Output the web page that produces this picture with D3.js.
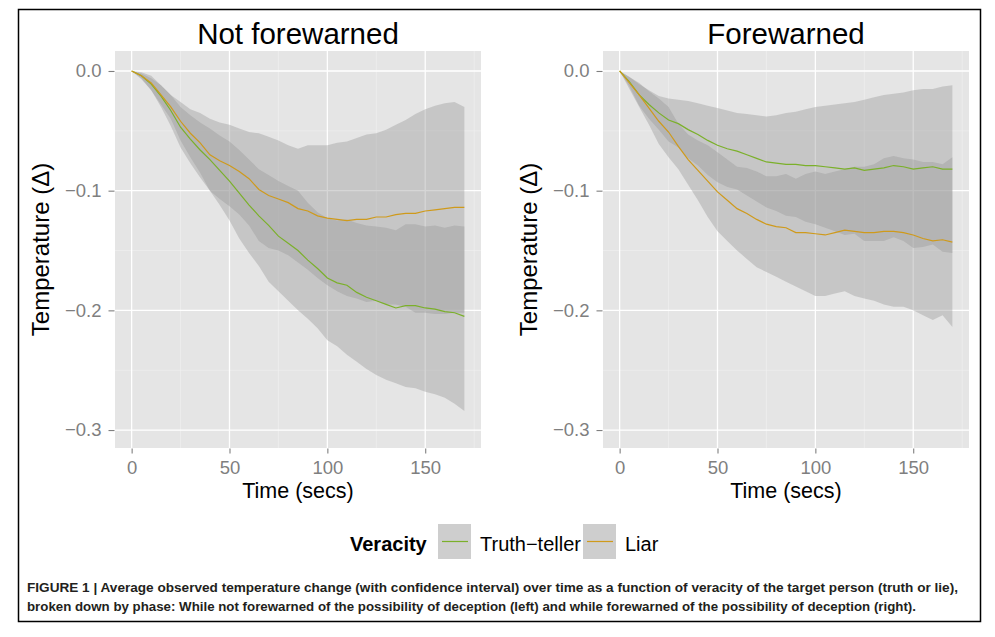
<!DOCTYPE html>
<html>
<head>
<meta charset="utf-8">
<script src="https://cdn.jsdelivr.net/npm/d3@7"></script>
<style>
  body { margin: 0; background: #ffffff; }
  text { font-family: "Liberation Sans", Arial, Helvetica, sans-serif; }
</style>
</head>
<body>
<div id="chart"></div>
<script>
// Time axis, seconds (one reading every 5 s off the figure)
var TIME = [0, 5, 10, 15, 20, 25, 30, 35, 40, 45, 50, 55, 60, 65, 70, 75, 80, 85,
            90, 95, 100, 105, 110, 115, 120, 125, 130, 135, 140, 145, 150, 155, 160, 165, 170];

var PHASES = ["Not forewarned", "Forewarned"];
var VERACITY = ["Truth\u2212teller", "Liar"];
var X_TICKS = [0, 50, 100, 150];
var X_MINOR = [25, 75, 125, 175];
var Y_TICKS = [0, -0.1, -0.2, -0.3];
var Y_TICK_LABELS = ["0.0", "\u22120.1", "\u22120.2", "\u22120.3"];
var Y_MINOR = [-0.05, -0.15, -0.25];

// Not forewarned
var nfTruthMean  = [0, -0.004, -0.011, -0.021, -0.033, -0.047, -0.057, -0.066, -0.074, -0.083, -0.092, -0.102, -0.112, -0.121, -0.129, -0.138, -0.144, -0.150, -0.158, -0.165, -0.173, -0.177, -0.179, -0.185, -0.189, -0.192, -0.195, -0.198, -0.196, -0.196, -0.198, -0.199, -0.201, -0.202, -0.205];
var nfTruthLower = [0, -0.006, -0.016, -0.030, -0.046, -0.064, -0.077, -0.089, -0.100, -0.112, -0.125, -0.140, -0.152, -0.163, -0.176, -0.184, -0.192, -0.200, -0.207, -0.215, -0.225, -0.230, -0.237, -0.243, -0.249, -0.254, -0.258, -0.261, -0.264, -0.265, -0.268, -0.270, -0.273, -0.278, -0.284];
var nfTruthUpper = [0, -0.002, -0.006, -0.012, -0.020, -0.030, -0.037, -0.043, -0.048, -0.054, -0.059, -0.066, -0.074, -0.082, -0.087, -0.092, -0.096, -0.100, -0.110, -0.118, -0.123, -0.125, -0.124, -0.127, -0.129, -0.130, -0.131, -0.133, -0.128, -0.128, -0.130, -0.129, -0.131, -0.129, -0.130];
var nfLiarMean   = [0, -0.004, -0.010, -0.020, -0.030, -0.042, -0.052, -0.060, -0.070, -0.075, -0.079, -0.084, -0.090, -0.099, -0.104, -0.107, -0.110, -0.115, -0.117, -0.121, -0.123, -0.124, -0.125, -0.124, -0.124, -0.122, -0.122, -0.120, -0.119, -0.119, -0.117, -0.116, -0.115, -0.114, -0.114];
var nfLiarLower  = [0, -0.007, -0.016, -0.028, -0.040, -0.058, -0.072, -0.085, -0.100, -0.107, -0.113, -0.120, -0.129, -0.142, -0.148, -0.150, -0.154, -0.160, -0.166, -0.173, -0.179, -0.184, -0.188, -0.190, -0.193, -0.192, -0.195, -0.195, -0.197, -0.202, -0.202, -0.203, -0.203, -0.202, -0.202];
var nfLiarUpper  = [0, -0.001, -0.004, -0.012, -0.020, -0.026, -0.032, -0.035, -0.040, -0.043, -0.045, -0.048, -0.051, -0.052, -0.055, -0.058, -0.062, -0.065, -0.062, -0.062, -0.062, -0.060, -0.059, -0.056, -0.053, -0.052, -0.049, -0.045, -0.041, -0.036, -0.032, -0.029, -0.027, -0.026, -0.030];

// Forewarned
var fwTruthMean  = [0, -0.009, -0.020, -0.028, -0.035, -0.041, -0.044, -0.049, -0.053, -0.058, -0.062, -0.065, -0.067, -0.070, -0.073, -0.076, -0.077, -0.078, -0.078, -0.079, -0.079, -0.080, -0.081, -0.082, -0.081, -0.083, -0.082, -0.081, -0.079, -0.080, -0.082, -0.081, -0.080, -0.082, -0.082];
var fwTruthLower = [0, -0.013, -0.029, -0.040, -0.049, -0.059, -0.064, -0.073, -0.079, -0.087, -0.093, -0.097, -0.099, -0.104, -0.109, -0.114, -0.117, -0.121, -0.122, -0.126, -0.128, -0.131, -0.134, -0.137, -0.136, -0.142, -0.142, -0.142, -0.139, -0.142, -0.148, -0.147, -0.145, -0.151, -0.152];
var fwTruthUpper = [0, -0.005, -0.011, -0.016, -0.021, -0.023, -0.024, -0.025, -0.027, -0.029, -0.031, -0.033, -0.035, -0.036, -0.037, -0.038, -0.037, -0.035, -0.034, -0.032, -0.030, -0.029, -0.028, -0.027, -0.026, -0.024, -0.022, -0.020, -0.019, -0.018, -0.016, -0.015, -0.015, -0.013, -0.012];
var fwLiarMean   = [0, -0.010, -0.020, -0.031, -0.042, -0.051, -0.063, -0.074, -0.083, -0.092, -0.101, -0.108, -0.115, -0.119, -0.124, -0.128, -0.130, -0.131, -0.135, -0.135, -0.136, -0.137, -0.135, -0.133, -0.134, -0.135, -0.135, -0.134, -0.134, -0.135, -0.137, -0.140, -0.142, -0.141, -0.143];
var fwLiarLower  = [0, -0.015, -0.030, -0.045, -0.061, -0.072, -0.082, -0.095, -0.108, -0.122, -0.134, -0.142, -0.150, -0.157, -0.164, -0.168, -0.172, -0.176, -0.180, -0.184, -0.188, -0.188, -0.186, -0.184, -0.188, -0.190, -0.192, -0.195, -0.197, -0.197, -0.200, -0.204, -0.208, -0.204, -0.214];
var fwLiarUpper  = [0, -0.005, -0.010, -0.017, -0.023, -0.030, -0.044, -0.053, -0.058, -0.062, -0.068, -0.074, -0.080, -0.081, -0.084, -0.088, -0.088, -0.086, -0.090, -0.086, -0.084, -0.086, -0.084, -0.082, -0.080, -0.080, -0.078, -0.073, -0.071, -0.073, -0.074, -0.076, -0.076, -0.078, -0.072];

var CAPTION_1 = "Average observed temperature change (with confidence interval) over time as a function of veracity of the target person (truth or lie),";
var CAPTION_2 = "broken down by phase: While not forewarned of the possibility of deception (left) and while forewarned of the possibility of deception (right).";

var COLORS = ["#7bb02a", "#cf9a1b"];   // truth-teller, liar
var RIBBON = "#999999";
var RIBBON_OPACITY = 0.4;

var PW = 366, PH = 397;   // panel size
var PANEL_LEFT = [115, 603];
var PANEL_TOP = 51;

var svg = d3.select("#chart").append("svg")
  .attr("width", 995)
  .attr("height", 637);

svg.append("rect").attr("width", 995).attr("height", 637).attr("fill", "#fff");

// outer figure frame
svg.append("rect")
  .attr("x", 18.5).attr("y", 9.5)
  .attr("width", 962).attr("height", 612)
  .attr("fill", "none")
  .attr("stroke", "#000")
  .attr("stroke-width", 1.5);

var x = d3.scaleLinear().domain([-8.5, 178.5]).range([0, PW]);
var y = d3.scaleLinear().domain([0.0167, -0.315]).range([0, PH]);

// build the series for each panel from the arrays
var panels = [
  { title: PHASES[0], left: PANEL_LEFT[0],
    series: [ { mean: nfTruthMean, lo: nfTruthLower, hi: nfTruthUpper },
              { mean: nfLiarMean,  lo: nfLiarLower,  hi: nfLiarUpper } ] },
  { title: PHASES[1], left: PANEL_LEFT[1],
    series: [ { mean: fwTruthMean, lo: fwTruthLower, hi: fwTruthUpper },
              { mean: fwLiarMean,  lo: fwLiarLower,  hi: fwLiarUpper } ] }
];

function drawPanel(p) {
  var g = svg.append("g").attr("transform", "translate(" + p.left + "," + PANEL_TOP + ")");

  g.append("rect").attr("width", PW).attr("height", PH).attr("fill", "#e5e5e5");

  // minor grid
  g.selectAll(".vminor").data(X_MINOR.filter(function (d) { return x(d) < PW; }))
    .enter().append("line")
    .attr("x1", function (d) { return x(d); }).attr("x2", function (d) { return x(d); })
    .attr("y1", 0).attr("y2", PH)
    .attr("stroke", "#f2f2f2").attr("stroke-width", 0.6);
  g.selectAll(".hminor").data(Y_MINOR).enter().append("line")
    .attr("x1", 0).attr("x2", PW)
    .attr("y1", function (d) { return y(d); }).attr("y2", function (d) { return y(d); })
    .attr("stroke", "#f2f2f2").attr("stroke-width", 0.6);

  // major grid
  g.selectAll(".vmajor").data(X_TICKS).enter().append("line")
    .attr("x1", function (d) { return x(d); }).attr("x2", function (d) { return x(d); })
    .attr("y1", 0).attr("y2", PH)
    .attr("stroke", "#fff").attr("stroke-width", 1.3);
  g.selectAll(".hmajor").data(Y_TICKS).enter().append("line")
    .attr("x1", 0).attr("x2", PW)
    .attr("y1", function (d) { return y(d); }).attr("y2", function (d) { return y(d); })
    .attr("stroke", "#fff").attr("stroke-width", 1.3);

  // confidence ribbons
  p.series.forEach(function (s) {
    var area = d3.area()
      .x(function (d, i) { return x(TIME[i]); })
      .y0(function (d, i) { return y(s.lo[i]); })
      .y1(function (d, i) { return y(s.hi[i]); });
    g.append("path").datum(TIME)
      .attr("d", area)
      .attr("fill", RIBBON)
      .attr("fill-opacity", RIBBON_OPACITY);
  });

  // mean lines
  p.series.forEach(function (s, k) {
    var line = d3.line()
      .x(function (d, i) { return x(TIME[i]); })
      .y(function (d) { return y(d); });
    g.append("path").datum(s.mean)
      .attr("d", line)
      .attr("fill", "none")
      .attr("stroke", COLORS[k])
      .attr("stroke-width", 1.2);
  });

  // axes
  var ya = g.append("g").attr("transform", "translate(-0.5,0)")
    .call(d3.axisLeft(y).tickValues(Y_TICKS)
      .tickFormat(function (d, i) { return Y_TICK_LABELS[i]; })
      .tickSize(6).tickPadding(7));
  var xa = g.append("g").attr("transform", "translate(0," + (PH + 0.5) + ")")
    .call(d3.axisBottom(x).tickValues(X_TICKS).tickSize(5).tickPadding(7));
  [ya, xa].forEach(function (a) {
    a.select(".domain").remove();
    a.selectAll("line").attr("stroke", "#7f7f7f").attr("stroke-width", 1.1);
    a.selectAll("text").attr("fill", "#7f7f7f")
      .style("font-size", "18.5px")
      .style("font-family", "'Liberation Sans', Arial, sans-serif");
  });

  // titles
  g.append("text")
    .attr("x", PW / 2).attr("y", 44 - PANEL_TOP)
    .attr("text-anchor", "middle")
    .style("font-size", "29.5px")
    .text(p.title);
  g.append("text")
    .attr("x", PW / 2).attr("y", 497.5 - PANEL_TOP)
    .attr("text-anchor", "middle")
    .style("font-size", "21.5px")
    .text("Time (secs)");
  g.append("text")
    .attr("transform", "translate(" + (48.5 - PANEL_LEFT[0]) + "," + (PH / 2) + ") rotate(-90)")
    .attr("text-anchor", "middle")
    .style("font-size", "24px")
    .text("Temperature (\u0394)");
}

panels.forEach(drawPanel);

// legend
var lg = svg.append("g");
lg.append("text")
  .attr("x", 350).attr("y", 551)
  .style("font-size", "20px").style("font-weight", "bold")
  .text("Veracity");
var KEY_X = [438, 583], LABEL_X = [480, 625];
VERACITY.forEach(function (v, k) {
  lg.append("rect")
    .attr("x", KEY_X[k]).attr("y", 524)
    .attr("width", 33).attr("height", 35)
    .attr("fill", "#f2f2f2");
  lg.append("rect")
    .attr("x", KEY_X[k]).attr("y", 524)
    .attr("width", 33).attr("height", 35)
    .attr("fill", RIBBON).attr("fill-opacity", RIBBON_OPACITY);
  lg.append("line")
    .attr("x1", KEY_X[k] + 4).attr("x2", KEY_X[k] + 30)
    .attr("y1", 541.5).attr("y2", 541.5)
    .attr("stroke", COLORS[k]).attr("stroke-width", 1.2);
  lg.append("text")
    .attr("x", LABEL_X[k]).attr("y", 551)
    .style("font-size", "20px")
    .text(v);
});

// caption
var cap = svg.append("g")
  .style("font-family", "'Liberation Sans Narrow', 'Arial Narrow', 'Liberation Sans', sans-serif")
  .style("font-size", "13.5px")
  .attr("fill", "#231f20");
var c1 = cap.append("text")
  .attr("x", 27).attr("y", 592)
  .attr("textLength", 931).attr("lengthAdjust", "spacingAndGlyphs");
c1.append("tspan").style("font-weight", "bold").text("FIGURE 1 | ");
c1.append("tspan").style("font-weight", "bold").text(CAPTION_1);
cap.append("text")
  .attr("x", 27).attr("y", 611)
  .attr("textLength", 889).attr("lengthAdjust", "spacingAndGlyphs")
  .style("font-weight", "bold")
  .text(CAPTION_2);
</script>
</body>
</html>
